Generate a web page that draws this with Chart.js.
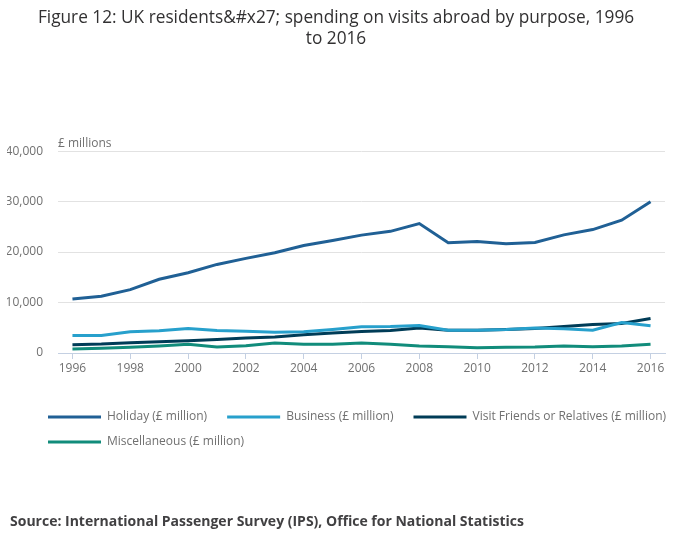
<!DOCTYPE html>
<html>
<head>
<meta charset="utf-8">
<title>UK residents' spending on visits abroad by purpose</title>
<script src="https://cdn.jsdelivr.net/npm/chart.js@4/dist/chart.umd.min.js"></script>
<style>
  html, body { margin: 0; padding: 0; background: #ffffff; }
  #wrap { width: 700px; height: 549px; position: relative; }
</style>
</head>
<body>
<div id="wrap"><canvas id="chart"></canvas></div>
<script>
// -------------------------------
// DATA (£ million)
// -------------------------------
const years = ["1996", "1997", "1998", "1999", "2000", "2001", "2002", "2003", "2004", "2005", "2006",
               "2007", "2008", "2009", "2010", "2011", "2012", "2013", "2014", "2015", "2016"];

const holiday = [10700, 11250, 12550, 14600, 15900, 17550, 18750, 19850, 21300, 22300, 23350,
                 24100, 25650, 21850, 22100, 21650, 21900, 23400, 24450, 26300, 29950];

const business = [3480, 3480, 4200, 4400, 4860, 4470, 4330, 4100, 4200, 4650, 5190,
                  5250, 5450, 4530, 4530, 4660, 4930, 4800, 4530, 6040, 5420];

const friendsRelatives = [1640, 1770, 2040, 2230, 2430, 2690, 2960, 3150, 3610, 3940, 4270,
                          4470, 4930, 4530, 4530, 4660, 4860, 5250, 5650, 5850, 6830];

const miscellaneous = [790, 920, 1120, 1380, 1710, 1180, 1440, 1970, 1710, 1710, 1970,
                       1710, 1380, 1250, 1050, 1120, 1180, 1380, 1250, 1380, 1710];

const seriesLabels = ["Holiday (£ million)", "Business (£ million)",
                      "Visit Friends or Relatives (£ million)", "Miscellaneous (£ million)"];

const yTicks = [0, 10000, 20000, 30000, 40000];

const titleLines = ["Figure 12: UK residents&#x27; spending on visits abroad by purpose, 1996", "to 2016"];
const unitLabel = "£ millions";
const sourceText = "Source: International Passenger Survey (IPS), Office for National Statistics";

// -------------------------------
// STYLE
// -------------------------------
const colours = ["#206095", "#27a0cc", "#003c57", "#118c7b"];
const textGrey = "#707070";
const axisBlue = "#c4d0e2";

Chart.defaults.font.family = "'Open Sans', sans-serif";
Chart.defaults.font.size = 12;
Chart.defaults.color = textGrey;

// Legend + extra labels drawn on the canvas
const extrasPlugin = {
  id: "extras",
  afterDraw(chart) {
    const ctx = chart.ctx;
    const area = chart.chartArea;
    ctx.save();

    // unit label above the plot
    ctx.font = "12px 'Open Sans', sans-serif";
    ctx.fillStyle = textGrey;
    ctx.textAlign = "left";
    ctx.textBaseline = "middle";
    ctx.fillText(unitLabel, area.left, area.top - 8);

    // legend: line swatch + label, wrapping rows
    const startX = 48, swatchW = 53, gap = 6, itemGap = 20, rowH = 25, maxX = 675;
    let x = startX, y = 417;
    chart.data.datasets.forEach(ds => {
      const w = swatchW + gap + ctx.measureText(ds.label).width;
      if (x > startX && x + w > maxX) {
        x = startX;
        y += rowH;
      }
      ctx.strokeStyle = ds.borderColor;
      ctx.lineWidth = 3;
      ctx.beginPath();
      ctx.moveTo(x, y);
      ctx.lineTo(x + swatchW, y);
      ctx.stroke();
      ctx.fillStyle = textGrey;
      ctx.fillText(ds.label, x + swatchW + gap, y);
      x += w + itemGap;
    });

    // source line
    ctx.font = "bold 14px 'Open Sans', sans-serif";
    ctx.fillStyle = "#414042";
    ctx.fillText(sourceText, 10, 522);

    ctx.restore();
  }
};

const seriesData = [holiday, business, friendsRelatives, miscellaneous];

new Chart(document.getElementById("chart"), {
  type: "line",
  data: {
    labels: years,
    datasets: seriesData.map((values, i) => ({
      label: seriesLabels[i],
      data: values,
      borderColor: colours[i],
      backgroundColor: colours[i],
      borderWidth: 3,
      pointRadius: 0,
      tension: 0,
      fill: false
    }))
  },
  options: {
    responsive: true,
    maintainAspectRatio: false,
    animation: false,
    layout: { padding: { left: 7, right: 35, top: 0, bottom: 171 } },
    plugins: {
      legend: { display: false },
      tooltip: { enabled: false },
      title: {
        display: true,
        text: titleLines,
        color: "#323132",
        font: { size: 17.25, weight: "normal", lineHeight: 1.22 },
        padding: { top: 8, bottom: 101 }
      }
    },
    scales: {
      x: {
        offset: true,
        grid: {
          drawOnChartArea: false,
          tickLength: 6,
          color: c => (c.index % 2 === 0 ? axisBlue : "rgba(0,0,0,0)")
        },
        border: { color: axisBlue },
        ticks: {
          autoSkip: false,
          maxRotation: 0,
          minRotation: 0,
          padding: 2,
          color: textGrey,
          callback: (val, i) => (i % 2 === 0 ? years[i] : "")
        },
        afterFit: scale => { scale.height = 25; }
      },
      y: {
        min: yTicks[0],
        max: yTicks[yTicks.length - 1],
        afterBuildTicks: scale => { scale.ticks = yTicks.map(v => ({ value: v })); },
        afterFit: scale => { scale.width = 51; },
        grid: { color: "#e2e2e2", drawTicks: false },
        border: { display: false },
        ticks: {
          padding: 15,
          color: textGrey,
          callback: v => v.toLocaleString("en-GB")
        }
      }
    }
  },
  plugins: [extrasPlugin]
});
</script>
</body>
</html>
